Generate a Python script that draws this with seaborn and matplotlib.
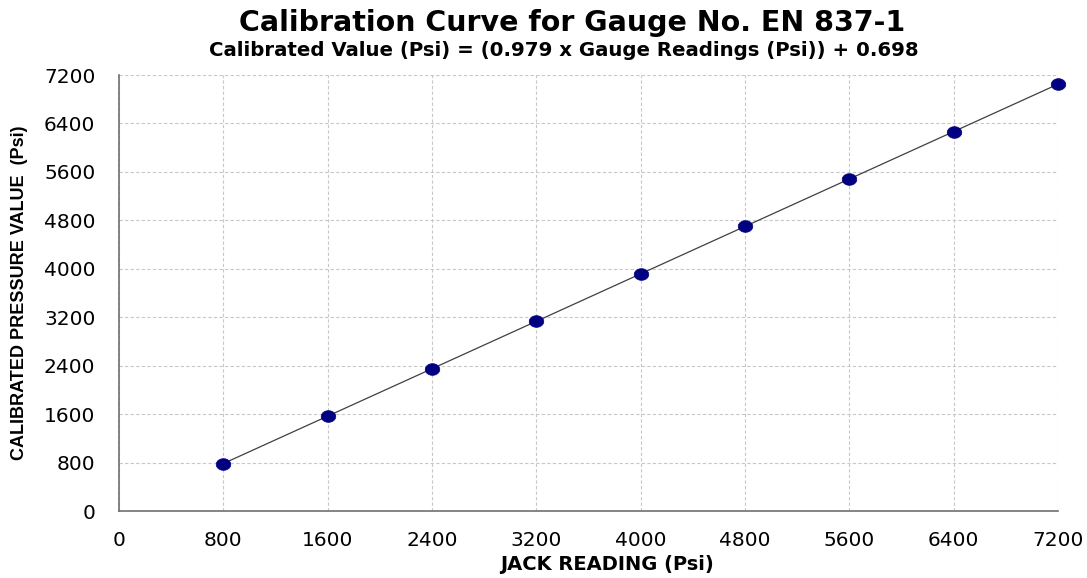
import matplotlib
matplotlib.use('Agg')
import matplotlib.pyplot as plt
import seaborn as sns
import numpy as np
import pandas as pd

# 数据
jack_reading = [800, 1600, 2400, 3200, 4000, 4800, 5600, 6400, 7200]
calibrated_value = [784, 1567, 2350, 3133, 3917, 4700, 5483, 6266, 7049]
x_ticks = [0, 800, 1600, 2400, 3200, 4000, 4800, 5600, 6400, 7200]
y_ticks = [0, 800, 1600, 2400, 3200, 4000, 4800, 5600, 6400, 7200]

df = pd.DataFrame({'jack': jack_reading, 'cal': calibrated_value})

sns.set_style('white')
plt.rcParams['font.family'] = ['DejaVu Sans']
plt.rcParams['text.color'] = 'black'
plt.rcParams['axes.labelcolor'] = 'black'
plt.rcParams['xtick.color'] = 'black'
plt.rcParams['ytick.color'] = 'black'

fig = plt.figure(figsize=(10.87, 5.78), dpi=100)
ax = fig.add_axes([0.1095, 0.1159, 0.8638, 0.7543])

# 趋势线 + 数据点
sns.lineplot(data=df, x='jack', y='cal', color='#404040', linewidth=0.9, ax=ax, zorder=2)
t = np.linspace(0, 2 * np.pi, 40)
ellipse = np.column_stack([1.25 * np.cos(t), np.sin(t)])
sns.scatterplot(data=df, x='jack', y='cal', marker=ellipse, s=110, color='#000080',
                edgecolor='#000080', linewidth=0.5, ax=ax, zorder=3, clip_on=False)

ax.set_xlim(0, 7200)
ax.set_ylim(0, 7200)
ax.set_xticks(x_ticks)
ax.set_yticks(y_ticks)
ax.tick_params(axis='x', labelsize=14.5, direction='inout', length=7, width=1,
               color='#707070', pad=11)
ax.tick_params(axis='y', labelsize=14.5, direction='out', length=5, width=1,
               color='#707070', pad=12)
ax.grid(True, linestyle=(0, (3, 2)), color='#c8c8c8', linewidth=0.8)
for side in ['top', 'right']:
    ax.spines[side].set_visible(False)
for side in ['left', 'bottom']:
    ax.spines[side].set_color('#707070')
    ax.spines[side].set_linewidth(1.2)

ax.set_xlabel('JACK READING (Psi)', fontsize=14, fontweight='bold')
ax.xaxis.set_label_coords(0.52, -0.1)
ax.set_ylabel('CALIBRATED PRESSURE VALUE  (Psi)', fontsize=13, fontweight='bold',
              family='Liberation Sans')
ax.yaxis.set_label_coords(-0.097, 0.5)

fig.text(0.526, 0.961, 'Calibration Curve for Gauge No. EN 837-1', ha='center', va='center',
         fontsize=20.5, fontweight='bold')
fig.text(0.519, 0.912, 'Calibrated Value (Psi) = (0.979 x Gauge Readings (Psi)) + 0.698',
         ha='center', va='center', fontsize=14.2, fontweight='bold')

fig.savefig('out.png', dpi=100)
